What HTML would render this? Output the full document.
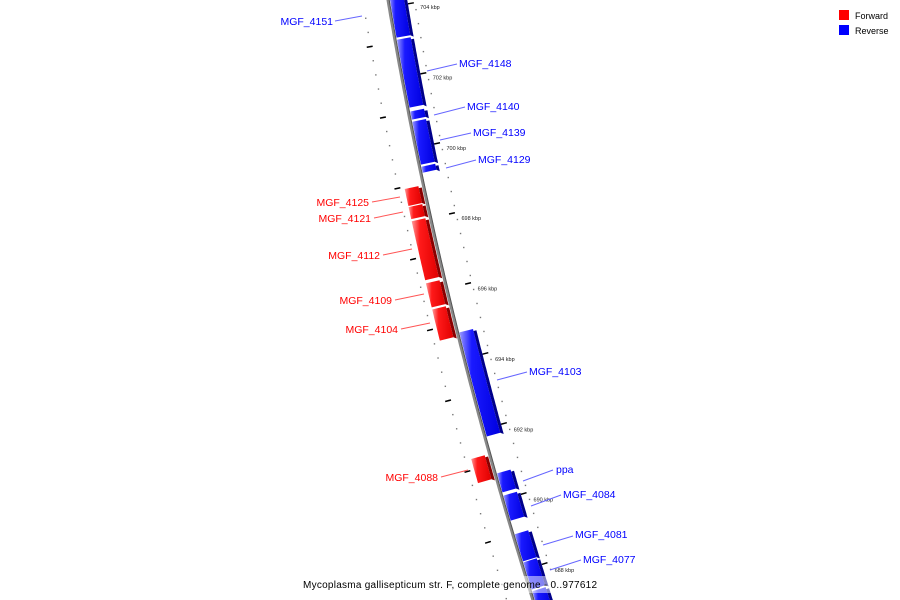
<!DOCTYPE html>
<html><head><meta charset="utf-8">
<style>
html,body{margin:0;padding:0;background:#fff;width:900px;height:600px;overflow:hidden;}
svg{display:block;font-family:"Liberation Sans",sans-serif;}
</style></head>
<body>
<svg id="chart" width="900" height="600" viewBox="0 0 900 600" xmlns="http://www.w3.org/2000/svg">
<defs>
  <linearGradient id="gRev" x1="0" x2="1" y1="0" y2="0">
    <stop offset="0" stop-color="#9a9aff"/><stop offset="0.3" stop-color="#1a1aff"/><stop offset="1" stop-color="#0000e0"/>
  </linearGradient>
  <linearGradient id="gFwd" x1="0" x2="1" y1="0" y2="0">
    <stop offset="0" stop-color="#ff9a9a"/><stop offset="0.3" stop-color="#ff1a1a"/><stop offset="1" stop-color="#e00000"/>
  </linearGradient>
</defs>
<g id="ticks"></g>
<path id="backbone" fill="none" stroke="#888" stroke-width="3"/>
<path id="backbone2" fill="none" stroke="#555" stroke-width="1"/>
<g id="genes"></g>
<g id="labels"></g>
<g>
  <rect x="839" y="10" width="10" height="10" fill="#ff0000"/>
  <text x="855" y="19" font-size="9" fill="#000">Forward</text>
  <rect x="839" y="25" width="10" height="10" fill="#0000ff"/>
  <text x="855" y="34" font-size="9" fill="#000">Reverse</text>
</g>
<rect x="300" y="576" width="300" height="17" fill="#fff" opacity="0.5"/>
<text x="303" y="588" font-size="10" textLength="294" lengthAdjust="spacing" fill="#000">Mycoplasma gallisepticum str. F, complete genome - 0..977612</text>
</svg>
<script>
// gene data (kbp)
const geneNames  = ["MGF_4151","MGF_4148","MGF_4140","MGF_4139","MGF_4129","MGF_4125","MGF_4121","MGF_4112","MGF_4109","MGF_4104","MGF_4103","MGF_4088","ppa","MGF_4084","MGF_4081","MGF_4077",""];
const geneStart  = [703.12,701.13,700.79,699.51,699.28,698.46,698.09,696.36,695.59,694.65,691.78,690.62,690.19,689.39,688.23,687.43,686.86];
const geneEnd    = [704.34,703.06,701.02,700.73,699.45,698.94,698.43,698.03,696.27,695.53,694.74,691.30,690.73,690.10,689.00,688.20,687.38];
const geneStrand = ["-","-","-","-","-","+","+","+","+","+","-","+","-","-","-","-","-"];
const tickLabels = [704,702,700,698,696,694,692,690,688];
// label layout (text x, baseline y, anchor, line x1,y1,x2,y2)
const labelLayout = [
 [333,25,"end",335,21,362,16],[459,67,"start",427,71,457,64],[467,110,"start",434,115,465,107],
 [473,136,"start",440,140,471,133],[478,163,"start",446,168,476,160],[369,206,"end",372,202,400,197],
 [371,222,"end",374,218,403,212],[380,259,"end",383,255,412,249],[392,304,"end",395,300,424,294],
 [398,333,"end",401,329,430,323],[529,375,"start",497,380,527,372],[438,481,"end",441,477,468,470],
 [556,473,"start",523,481,553,470],[563,498,"start",531,506,561,495],[575,538,"start",543,545,573,536],
 [583,563,"start",550,570,581,560],null];

const NS="http://www.w3.org/2000/svg";
function yOf(k){return 7+(704-k)*35.19;}
function X(y){return 388+0.168*y+0.0001225*y*y;}
function dX(y){return 0.168+0.000245*y;}
function pt(y,o){const d=dX(y),n=Math.sqrt(1+d*d);return [X(y)+o/n, y-o*d/n];}

let bb="";for(let y=-10;y<=610;y+=5){const p=pt(y,0);bb+=(y===-10?"M":"L")+p[0].toFixed(1)+","+p[1].toFixed(1);}
document.getElementById("backbone").setAttribute("d",bb);
let bb2="";for(let y=-10;y<=610;y+=5){const p=pt(y,1.2);bb2+=(y===-10?"M":"L")+p[0].toFixed(1)+","+p[1].toFixed(1);}
document.getElementById("backbone2").setAttribute("d",bb2);

const tg=document.getElementById("ticks");
for(let i=0;i<=48;i++){
  const k=704.6-i*0.4; const y=yOf(k);
  if(y<0||y>600) continue;
  [26,-25].forEach(o=>{const p=pt(y,o);
    const c=document.createElementNS(NS,"rect");
    
    
    c.setAttribute("x",p[0]-0.7);c.setAttribute("y",p[1]-0.7);c.setAttribute("width",1.4);c.setAttribute("height",1.4);c.setAttribute("fill","#777");tg.appendChild(c);});
}
for(let k=687;k<=705;k++){
  const y=yOf(k); if(y<0||y>600) continue;
  const o=(k%2===0)?22:-26;
  const a=pt(y,o-3),b=pt(y,o+3);
  const l=document.createElementNS(NS,"line");
  
  
  l.setAttribute("x1",a[0]);l.setAttribute("y1",a[1]);l.setAttribute("x2",b[0]);l.setAttribute("y2",b[1]);
  l.setAttribute("stroke","#000");l.setAttribute("stroke-width","1.5");tg.appendChild(l);
}
tickLabels.forEach(k=>{
  const y=yOf(k);
  const t=document.createElementNS(NS,"text");
  
  
  t.setAttribute("x",X(y)+31);t.setAttribute("y",y+2);t.setAttribute("font-size","5.5");t.setAttribute("fill","#222");
  t.textContent=k+" kbp";tg.appendChild(t);
});

const gg=document.getElementById("genes"), lg=document.getElementById("labels");
geneNames.forEach((name,i)=>{
  const y1=yOf(geneEnd[i]), y2=yOf(geneStart[i]);
  const rev=geneStrand[i]==="-";
  const o1=rev?2:-19, o2=rev?16:-5;
  let outer=[],inner=[];
  for(let y=y1;y<y2;y+=2){outer.push(pt(y,o2));inner.push(pt(y,o1));}
  outer.push(pt(y2,o2));inner.push(pt(y2,o1));
  const pts=outer.concat(inner.reverse()).map(p=>p[0].toFixed(1)+","+p[1].toFixed(1)).join(" ");
  const poly=document.createElementNS(NS,"polygon");
  
  
  poly.setAttribute("points",pts);poly.setAttribute("fill",rev?"url(#gRev)":"url(#gFwd)");
  gg.appendChild(poly);
  let s1=[],s2=[];
  const sa=rev?16:-5, sb=rev?19:-2;
  for(let y=y1+2;y<y2;y+=2){s1.push(pt(y,sa));s2.push(pt(y,sb));}
  s1.push(pt(y2,sa));s2.push(pt(y2+2,sb));
  const sp=s1.concat(s2.reverse()).map(p=>p[0].toFixed(1)+","+p[1].toFixed(1)).join(" ");
  const side=document.createElementNS(NS,"polygon");
  
  
  side.setAttribute("points",sp);side.setAttribute("fill",rev?"#00008a":"#8a0000");
  gg.appendChild(side);
  const L=labelLayout[i];
  if(name&&L){
    const col=rev?"#0000ff":"#ff0000";
    const ln=document.createElementNS(NS,"line");
    
    
    ln.setAttribute("x1",L[3]);ln.setAttribute("y1",L[4]);ln.setAttribute("x2",L[5]);ln.setAttribute("y2",L[6]);
    ln.setAttribute("stroke",rev?"#6666ff":"#ff5555");ln.setAttribute("stroke-width","1");lg.appendChild(ln);
    const t=document.createElementNS(NS,"text");
    
    
    t.setAttribute("x",L[0]);t.setAttribute("y",L[1]);t.setAttribute("text-anchor",L[2]);
    t.setAttribute("font-size","10.5");t.setAttribute("fill",col);
    t.textContent=name;lg.appendChild(t);
  }
});
</script>
</body></html>
